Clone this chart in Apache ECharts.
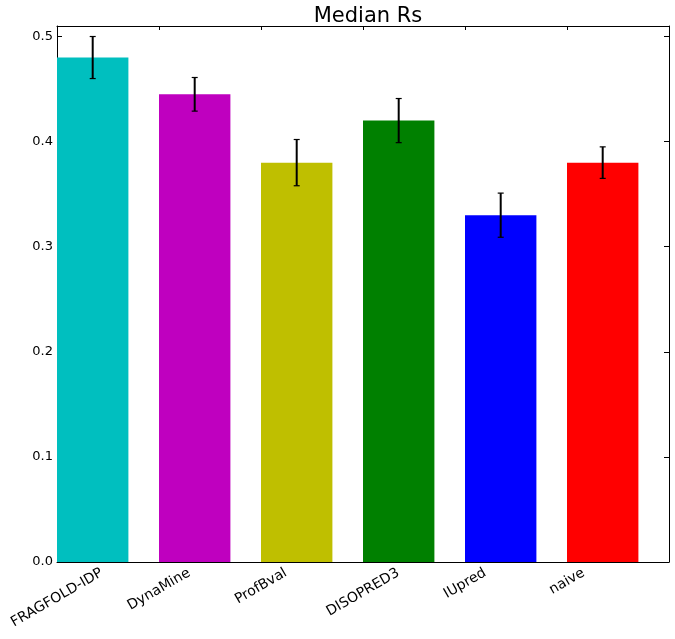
<!DOCTYPE html>
<html>
<head>
<meta charset="utf-8">
<script src="https://cdn.jsdelivr.net/npm/echarts@6/dist/echarts.min.js"></script>
<style>
html,body{margin:0;padding:0;background:#fff;}
#chart{width:675px;height:639px;}
</style>
</head>
<body>
<div id="chart"></div>
<script>
const categories = ['FRAGFOLD-IDP', 'DynaMine', 'ProfBval', 'DISOPRED3', 'IUpred', 'naive'];
const medianValues = [0.48, 0.445, 0.38, 0.42, 0.33, 0.38];
const errorValues = [0.02, 0.016, 0.022, 0.021, 0.021, 0.015];
const barColors = ['#00BFBF', '#BF00BF', '#BFBF00', '#008000', '#0000FF', '#FF0000'];
const yTicks = [0, 0.1, 0.2, 0.3, 0.4, 0.5];

const BAR_W = 0.7;
const FONT = 'DejaVu Sans';
const LABEL_SIZE = 14;

const chart = echarts.init(document.getElementById('chart'));
const measureCtx = document.createElement('canvas').getContext('2d');
measureCtx.font = LABEL_SIZE + 'px "' + FONT + '"';

const barData = medianValues.map((v, i) => [i, v]);
const errData = medianValues.map((v, i) => [i, v - errorValues[i], v + errorValues[i]]);
const labelData = categories.map((c, i) => [i, 0]);

const axisLineStyle = {color: '#000', width: 1};

chart.setOption({
  animation: false,
  backgroundColor: '#fff',
  title: {
    text: 'Median Rs',
    left: 363, top: 1, textAlign: 'center',
    textStyle: {fontFamily: FONT, fontSize: 21, fontWeight: 'normal', color: '#000'}
  },
  grid: {left: 57, right: 6, top: 26, bottom: 77, containLabel: false},
  xAxis: [
    {type: 'value', min: 0, max: 6, interval: 1, position: 'bottom',
     axisLine: {show: true, onZero: false, lineStyle: axisLineStyle},
     axisTick: {show: true, inside: true, length: 4, lineStyle: axisLineStyle},
     axisLabel: {show: false}, splitLine: {show: false}},
    {type: 'value', min: 0, max: 6, interval: 1, position: 'top',
     axisLine: {show: true, onZero: false, lineStyle: axisLineStyle},
     axisTick: {show: true, inside: true, length: 4, lineStyle: axisLineStyle},
     axisLabel: {show: false}, splitLine: {show: false}}
  ],
  yAxis: [
    {type: 'value', min: 0, max: 0.51, interval: 0.1, position: 'left',
     axisLine: {show: true, onZero: false, lineStyle: axisLineStyle},
     axisTick: {show: true, inside: true, length: 5, lineStyle: axisLineStyle},
     axisLabel: {show: true, margin: 4, showMaxLabel: false, color: '#000', fontFamily: FONT, fontSize: 13,
       formatter: v => yTicks.some(t => Math.abs(t - v) < 1e-9) ? v.toFixed(1) : ''},
     splitLine: {show: false}},
    {type: 'value', min: 0, max: 0.51, interval: 0.1, position: 'right',
     axisLine: {show: true, onZero: false, lineStyle: axisLineStyle},
     axisTick: {show: true, inside: true, length: 5, lineStyle: axisLineStyle},
     axisLabel: {show: false}, splitLine: {show: false}}
  ],
  series: [
    {
      type: 'custom', name: 'Median Rs', xAxisIndex: 0, yAxisIndex: 0,
      data: barData, encode: {x: 0, y: 1}, z: 2,
      renderItem: function (params, api) {
        const i = api.value(0), v = api.value(1);
        const p0 = api.coord([i, 0]);
        const p1 = api.coord([i + BAR_W, v]);
        return {type: 'rect',
          shape: {x: p0[0], y: p1[1], width: p1[0] - p0[0], height: p0[1] - p1[1]},
          style: {fill: barColors[i]}};
      }
    },
    {
      type: 'custom', name: 'error', xAxisIndex: 0, yAxisIndex: 0,
      data: errData, encode: {x: 0, y: [1, 2]}, z: 3,
      renderItem: function (params, api) {
        const i = api.value(0);
        const lo = api.coord([i + BAR_W / 2, api.value(1)]);
        const hi = api.coord([i + BAR_W / 2, api.value(2)]);
        const cap = 3;
        const st = {stroke: '#000', lineWidth: 2};
        const capSt = {stroke: '#000', lineWidth: 1.2};
        return {type: 'group', children: [
          {type: 'line', shape: {x1: lo[0], y1: lo[1], x2: hi[0], y2: hi[1]}, style: st},
          {type: 'line', shape: {x1: lo[0] - cap, y1: lo[1], x2: lo[0] + cap, y2: lo[1]}, style: capSt},
          {type: 'line', shape: {x1: hi[0] - cap, y1: hi[1], x2: hi[0] + cap, y2: hi[1]}, style: capSt}
        ]};
      }
    },
    {
      type: 'custom', name: 'labels', xAxisIndex: 0, yAxisIndex: 0,
      data: labelData, encode: {x: 0, y: 1}, z: 4, clip: false, silent: true,
      renderItem: function (params, api) {
        const i = api.value(0);
        const p = api.coord([i, 0]);
        const text = categories[i];
        const L = measureCtx.measureText(text).width;
        const h = LABEL_SIZE * 1.15;
        const ang = Math.PI / 6;
        const bboxH = L * Math.sin(ang) + h * Math.cos(ang);
        return {type: 'text', x: p[0], y: p[1] + 3 + bboxH / 2, rotation: ang,
          style: {text: text, fontFamily: FONT, fontSize: LABEL_SIZE, fill: '#000',
            align: 'center', verticalAlign: 'middle'}};
      }
    }
  ]
});
</script>
</body>
</html>
